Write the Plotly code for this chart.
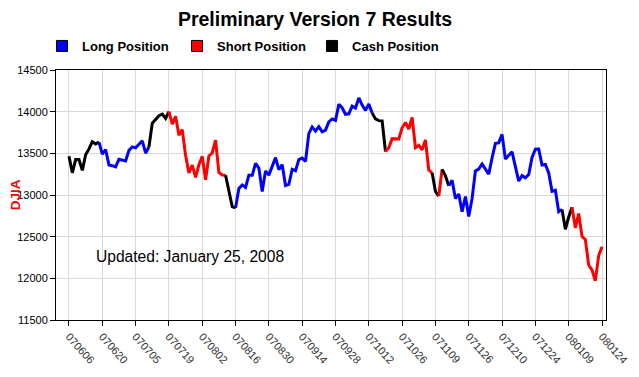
import pandas as pd
import plotly.graph_objects as go

# ---- data ----
holidays = ["2007-07-04", "2007-09-03", "2007-11-22", "2007-12-25", "2008-01-01", "2008-01-21"]
trading_days = [d for d in pd.bdate_range("2007-06-06", "2008-01-24") if d.strftime("%Y-%m-%d") not in holidays]
dates = [d.strftime("%y%m%d") for d in trading_days]

djia = [
    13465.67, 13266.73, 13424.96, 13424.88, 13295.01, 13482.35, 13553.72, 13639.48, 13612.98, 13635.42,
    13489.42, 13545.84, 13360.26, 13352.05, 13337.66, 13427.73, 13422.28, 13408.62, 13535.43, 13577.30,
    13565.84, 13611.68, 13649.97, 13501.70, 13577.87, 13861.73, 13907.25, 13950.98, 13971.55, 13918.22,
    14000.41, 13851.08, 13943.42, 13716.95, 13785.07, 13473.57, 13265.47, 13358.31, 13211.99, 13362.37,
    13463.33, 13181.91, 13468.78, 13504.30, 13657.86, 13270.68, 13239.54, 13236.53, 13028.92, 12861.47,
    12845.78, 13079.08, 13121.35, 13090.86, 13236.13, 13235.88, 13378.87, 13322.13, 13041.85, 13289.29,
    13238.73, 13357.74, 13448.86, 13305.47, 13363.35, 13113.38, 13127.85, 13308.39, 13291.65, 13424.88,
    13442.52, 13403.42, 13739.39, 13815.56, 13766.70, 13820.19, 13759.06, 13778.65, 13878.15, 13912.94,
    13895.63, 14087.55, 14047.31, 13968.05, 13974.31, 14066.01, 14043.73, 14164.53, 14078.69, 14015.12,
    14093.08, 13984.80, 13912.94, 13892.54, 13888.96, 13522.02, 13566.97, 13676.23, 13675.25, 13671.92,
    13806.70, 13870.26, 13792.47, 13930.01, 13567.87, 13595.10, 13543.40, 13660.94, 13300.02, 13266.29,
    13042.74, 12987.55, 13307.09, 13231.01, 13110.05, 13176.79, 12958.44, 13010.14, 12799.04, 12980.88,
    12743.44, 12958.44, 13289.45, 13311.73, 13371.72, 13314.57, 13248.73, 13444.96, 13619.89, 13625.58,
    13727.03, 13432.77, 13473.90, 13517.96, 13339.85, 13167.20, 13232.47, 13207.27, 13245.64, 13450.65,
    13549.33, 13551.69, 13359.61, 13365.87, 13264.82, 13043.96, 13056.72, 12800.18, 12827.49, 12589.07,
    12735.31, 12853.09, 12606.30, 12778.15, 12501.11, 12466.16, 12159.21, 12099.30, 11971.19, 12270.17,
    12378.61,
]

# position held between consecutive trading-day indices
segment_starts = [0, 9, 24, 30, 47, 50, 91, 95, 109, 111, 112, 114, 148, 151]
segment_positions = ["Cash", "Long", "Cash", "Short", "Cash", "Long", "Cash", "Short",
                     "Cash", "Short", "Cash", "Long", "Cash", "Short"]

position_names = ["Long", "Short", "Cash"]
position_colors = {"Long": "#0000FF", "Short": "#FF0000", "Cash": "#000000"}

tick_labels = dates[::10]

# ---- figure ----
# the page body adds an 8px margin, so the figure is drawn 8px smaller
W, H = 631, 369
fig = go.Figure()

ends = segment_starts[1:] + [len(djia) - 1]
for s, e, pos in zip(segment_starts, ends, segment_positions):
    fig.add_trace(go.Scatter(
        x=dates[s:e + 1], y=djia[s:e + 1], mode="lines",
        line=dict(color=position_colors[pos], width=3),
        showlegend=False, hoverinfo="x+y",
    ))

for pos in position_names:
    fig.add_trace(go.Scatter(
        x=[None], y=[None], mode="markers", name=f"{pos} Position",
        marker=dict(symbol="square", size=11, color=position_colors[pos],
                    line=dict(color="#000000", width=1)),
    ))

fig.add_shape(type="rect", xref="paper", yref="paper",
              x0=(93 - 56) / 550, x1=(304 - 56) / 550,
              y0=(320 - 287) / 250, y1=(320 - 244) / 250,
              fillcolor="white", line=dict(width=0), layer="between")
fig.add_annotation(text="Updated: January 25, 2008", xref="paper", yref="paper",
                   x=(94 - 56) / 550, y=(320 - 256) / 250, xanchor="left", yanchor="middle",
                   showarrow=False, font=dict(family="Liberation Sans, Arial", size=15.6, color="#000000"))

fig.update_layout(
    width=W, height=H,
    margin=dict(l=48, r=33, t=62, b=57, autoexpand=False),
    paper_bgcolor="white", plot_bgcolor="white",
    font=dict(family="Liberation Sans, Arial", color="#000000"),
    title=dict(text="<b>Preliminary Version 7 Results</b>", x=307 / W, xanchor="center",
               y=1 - 11 / H, yanchor="middle",
               font=dict(size=19.5, family="Liberation Sans, Arial", color="#000000")),
    legend=dict(orientation="h", x=-0.0254, xanchor="left", y=1.096, yanchor="middle",
                font=dict(size=13, family="Liberation Sans, Arial", color="#000000", weight="bold"),
                entrywidth=90, bgcolor="rgba(0,0,0,0)", itemclick=False),
    xaxis=dict(type="category", range=[-3.9, 161.2], automargin=False,
               tickmode="array", tickvals=tick_labels, ticktext=tick_labels,
               tickangle=48, tickfont=dict(size=11, color="#333333"),
               ticks="outside", ticklen=5, tickcolor="#000000",
               showgrid=True, gridcolor="#D9D9D9", gridwidth=1,
               showline=True, linecolor="#000000", linewidth=1, mirror=True, zeroline=False),
    yaxis=dict(range=[11500, 14500], tickmode="linear", tick0=11500, dtick=500, tickformat="d",
               automargin=False,
               tickfont=dict(size=11, color="#000000"),
               ticks="outside", ticklen=5, tickcolor="#000000",
               showgrid=True, gridcolor="#D9D9D9", gridwidth=1,
               showline=True, linecolor="#000000", linewidth=1, mirror=True, zeroline=False,
               title=dict(text="<b>DJIA</b>", standoff=14,
                          font=dict(size=13.5, color="#FF0000", family="Liberation Sans, Arial"))),
)

fig.write_html("out.html")
